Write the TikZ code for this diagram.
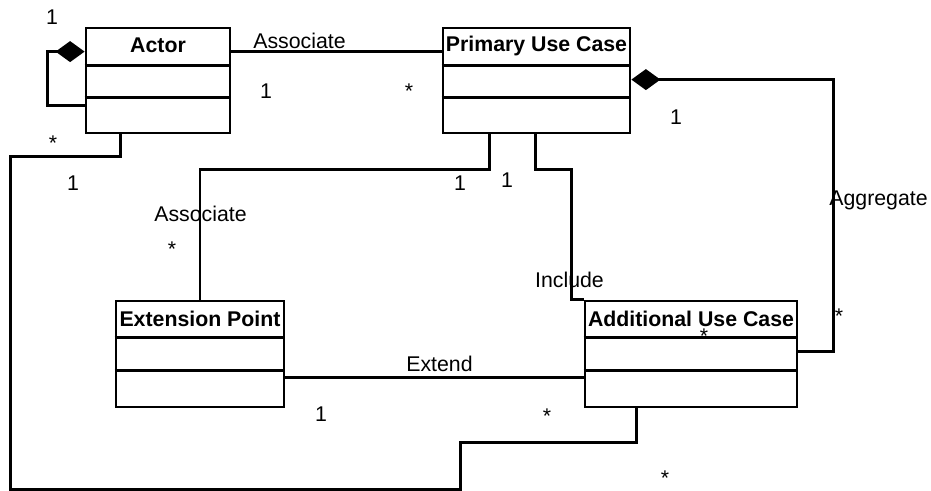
\documentclass[tikz,border=0pt]{standalone}
\usepackage{fontspec}
\setmainfont{Liberation Sans}
\usetikzlibrary{arrows.meta,calc}
\begin{document}
\begin{tikzpicture}[x=1pt,y=-1pt,
  cls/.style={draw,line width=2.8pt,rectangle,inner sep=0pt},
  divider/.style={line width=2.8pt},
  conn/.style={line width=2.8pt,line join=miter},
  comp/.style={{Diamond[length=29pt,width=21pt,line width=0pt 0]}-},
  title/.style={font=\bfseries\fontsize{21.3}{25}\selectfont,inner sep=0pt},
  lbl/.style={font=\fontsize{21.3}{25}\selectfont,inner sep=0pt,anchor=base}]
\useasboundingbox (0,0) rectangle (931,490);

% classes
\node[cls,minimum width=144pt,minimum height=105pt] (actor) at (158,80.5) {};
\node[cls,minimum width=187pt,minimum height=105pt] (primary) at (536.5,80.5) {};
\node[cls,minimum width=168pt,minimum height=106pt] (extension) at (200,354) {};
\node[cls,minimum width=212pt,minimum height=106pt] (additional) at (691,354) {};

\foreach \c in {actor,primary}{
  \draw[divider] ($(\c.north west)+(0,38.5)$) -- ($(\c.north east)+(0,38.5)$);
  \draw[divider] ($(\c.north west)+(0,71)$) -- ($(\c.north east)+(0,71)$);
}
\foreach \c in {extension,additional}{
  \draw[divider] ($(\c.north west)+(0,38)$) -- ($(\c.north east)+(0,38)$);
  \draw[divider] ($(\c.north west)+(0,71)$) -- ($(\c.north east)+(0,71)$);
}

\node[title] (actorT) at ($(actor.north)+(0,19)$) {Actor};
\node[title] (primaryT) at ($(primary.north)+(0,19)$) {Primary Use Case};
\node[title] (extensionT) at ($(extension.north)+(0,19)$) {Extension Point};
\node[title] (additionalT) at ($(additional.north)+(0,19)$) {Additional Use Case};

% connectors
\draw[conn] ($(actor.north east)+(0,25)$) -- ($(primary.north west)+(0,25)$);
\draw[conn,comp] ($(actor.north west)+(0,25)$) -- ++(-37,0) |- ($(actor.north west)+(0,79)$);
\draw[conn,comp] ($(primary.north east)+(0,53)$) -- ++(202,0) |- ($(additional.north east)+(0,52)$);
\draw[conn] ($(primary.south west)+(94,0)$) -- ++(0,35) -| ($(additional.north west)+(-12,0)$) -- (additional.north west);
\draw[conn] ($(primary.south west)+(48,0)$) -- ++(0,35) -| (extension.north);
\draw[conn] ($(extension.north east)+(0,78)$) -- ($(additional.north west)+(0,78)$);
\draw[conn] ($(actor.south west)+(36,0)$) -- ++(0,22) -- ++(-110,0) -- ++(0,333) -- ++(450,0) -- ++(0,-47) -| ($(additional.south west)+(53,0)$);

% labels
\node[lbl] (l1) at (52,24) {1};
\node[lbl] (l2) at (53,150) {*};
\node[lbl] (l3) at (73,190) {1};
\node[lbl] (l4) at (299.5,48) {Associate};
\node[lbl] (l5) at (266,98) {1};
\node[lbl] (l6) at (409,98) {*};
\node[lbl] (l7) at (676,124) {1};
\node[lbl] (l8) at (878.5,205) {Aggregate};
\node[lbl] (l9) at (839,323) {*};
\node[lbl] (l10) at (704,343) {*};
\node[lbl] (l11) at (460,190) {1};
\node[lbl] (l12) at (507,187) {1};
\node[lbl] (l13) at (200.5,221) {Associate};
\node[lbl] (l14) at (172,256) {*};
\node[lbl] (l15) at (569.5,287) {Include};
\node[lbl] (l16) at (439.5,371) {Extend};
\node[lbl] (l17) at (321,421) {1};
\node[lbl] (l18) at (547,423) {*};
\node[lbl] (l19) at (665,485) {*};
\end{tikzpicture}
\end{document}
